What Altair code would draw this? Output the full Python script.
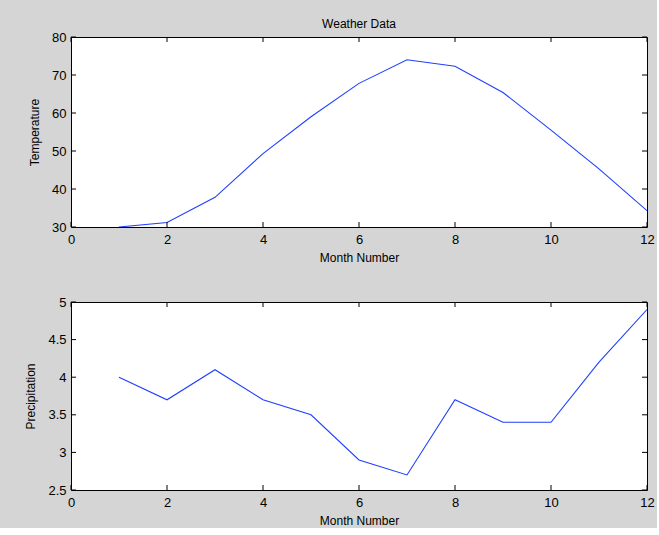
import altair as alt
import pandas as pd

months = list(range(1, 13))
temperature = [30, 31.2, 37.8, 49.3, 59, 67.8, 74, 72.3, 65.4, 55.5, 45.3, 34.3]
precipitation = [4.0, 3.7, 4.1, 3.7, 3.5, 2.9, 2.7, 3.7, 3.4, 3.4, 4.2, 4.9]

x_ticks = [0, 2, 4, 6, 8, 10, 12]
temp_ticks = [30, 40, 50, 60, 70, 80]
prec_ticks = [2.5, 3, 3.5, 4, 4.5, 5]

W = 576
H1 = 190
H2 = 188
TL = 5  # tick length
FONT = "Liberation Sans"
LINE = "#1f3fff"

df = pd.DataFrame({"Month": months, "Temperature": temperature, "Precipitation": precipitation})
xt = pd.DataFrame({"v": x_ticks})


def panel(field, yticks, ylabel, h, title=None):
    xs = alt.Scale(domain=[0, 12], nice=False, zero=False)
    ys = alt.Scale(domain=[yticks[0], yticks[-1]], nice=False, zero=False)
    xax = alt.Axis(values=x_ticks, labelExpr="'' + datum.value", ticks=False,
                   grid=False, domain=False, labelPadding=6, titlePadding=6,
                   labelFlush=False, labelOverlap=False, title="Month Number")
    yax = alt.Axis(values=yticks, labelExpr="'' + datum.value", ticks=False,
                   grid=False, domain=False, labelPadding=5, titlePadding=10,
                   labelFlush=False, labelOverlap=False, title=ylabel)
    line = alt.Chart(df).mark_line(color=LINE, strokeWidth=1.1, clip=True).encode(
        x=alt.X("Month:Q", scale=xs, axis=xax),
        y=alt.Y(f"{field}:Q", scale=ys, axis=yax),
    )
    yt = pd.DataFrame({"v": yticks})
    bx = alt.Chart(xt).mark_rule(color="black", strokeWidth=1).encode(
        x=alt.X("v:Q", scale=xs, axis=xax), y=alt.value(h - TL), y2=alt.value(h))
    tx = alt.Chart(xt).mark_rule(color="black", strokeWidth=1).encode(
        x=alt.X("v:Q", scale=xs, axis=xax), y=alt.value(0), y2=alt.value(TL))
    ly = alt.Chart(yt).mark_rule(color="black", strokeWidth=1).encode(
        y=alt.Y("v:Q", scale=ys, axis=yax), x=alt.value(0), x2=alt.value(TL))
    ry = alt.Chart(yt).mark_rule(color="black", strokeWidth=1).encode(
        y=alt.Y("v:Q", scale=ys, axis=yax), x=alt.value(W - TL), x2=alt.value(W))
    ch = alt.layer(line, bx, tx, ly, ry).properties(width=W, height=h)
    if title:
        ch = ch.properties(title=alt.TitleParams(title, fontSize=12, fontWeight="normal",
                                                 font=FONT, color="black", offset=0))
    return ch


top = panel("Temperature", temp_ticks, "Temperature", H1, "Weather Data")
bottom = panel("Precipitation", prec_ticks, "Precipitation", H2)

chart = alt.vconcat(top, bottom, spacing=31).properties(
    background="#d4d5d4",
    padding={"left": 24, "top": 17, "right": 2, "bottom": 1},
).configure_view(stroke="black", strokeWidth=1, fill="white").configure_axis(
    labelFont=FONT, titleFont=FONT, labelFontSize=13, titleFontSize=12,
    labelColor="black", titleColor="black", titleFontWeight="normal",
)

chart.save("out.html", embed_options={"renderer": "svg", "actions": False})
